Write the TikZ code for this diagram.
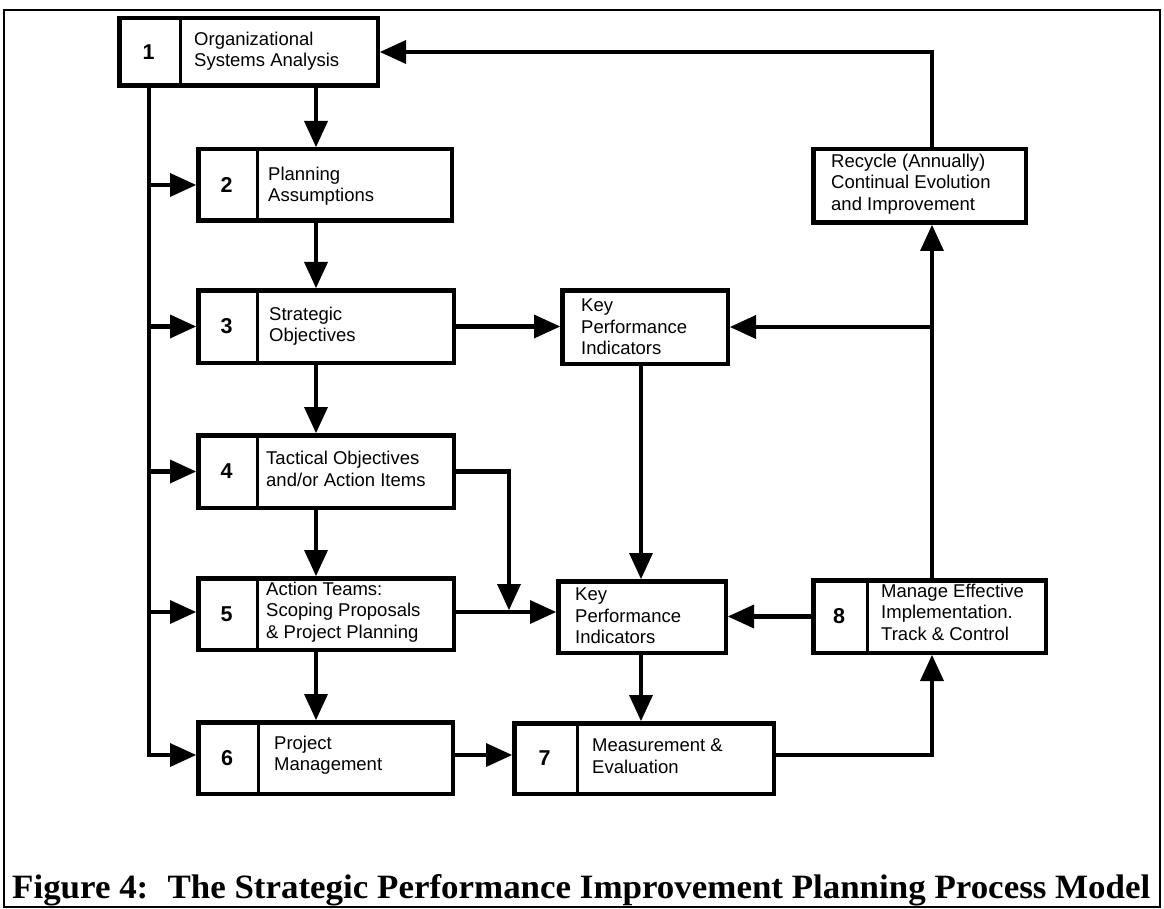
\documentclass[tikz,border=0pt]{standalone}
\usepackage{fontspec}
\usepackage{graphicx}
\setmainfont{Liberation Sans}
\newfontfamily\capfont{Liberation Serif}
\usetikzlibrary{arrows.meta}

\tikzset{
  boxline/.style={draw=black, line width=4.5pt, fill=white, inner sep=0pt},
  divline/.style={draw=black, line width=3pt},
  numtxt/.style={inner sep=0pt, font=\fontsize{21.5}{24}\selectfont\bfseries},
  boxtxt/.style={inner sep=0pt, anchor=west, align=left,
                 font=\fontsize{18.5}{21.5}\selectfont},
  conn/.style={draw=black, line width=4.5pt},
  arr/.style={-{Triangle[length=26pt,width=24pt,line width=0pt]}},
  frameline/.style={draw=black, line width=2.5pt}
}

% numbered process box: name, x1, y1, x2, y2, divider x, number, text anchor, text
\newcommand\pbox[9]{%
  \pgfmathsetmacro\pbW{#4-#2-4.5}%
  \pgfmathsetmacro\pbH{#5-#3-4.5}%
  \pgfmathsetmacro\pbX{(#2+#4)/2}%
  \pgfmathsetmacro\pbY{(#3+#5)/2}%
  \pgfmathsetmacro\pbN{(#2+#6)/2}%
  \node[boxline, minimum width=\pbW pt, minimum height=\pbH pt] (#1) at (\pbX,\pbY) {};
  \draw[divline] (#6,#3) -- (#6,#5);
  \node[numtxt] (#1-num) at (\pbN,\pbY) {#7};
  \node[boxtxt] (#1-txt) at (#8) {#9};
}

\begin{document}
\begin{tikzpicture}[x=1pt,y=-1pt]
\useasboundingbox (0,0) rectangle (1164,909);
\fill[white] (0,0) rectangle (1164,909);
\draw[frameline] (4,10) rectangle (1160,907);

% process boxes
\pbox{b1}{117}{16}{380}{88}{180}{1}{194,51}{Organizational\\Systems Analysis}
\pbox{b2}{196}{147}{454}{223}{257}{2}{268,186}{Planning\\Assumptions}
\pbox{b3}{196}{288}{456}{365}{257}{3}{269,326}{Strategic\\Objectives}
\pbox{b4}{196}{433}{456}{510}{257}{4}{266,469}{Tactical Objectives\\and/or Action Items}
\pbox{b5}{196}{576}{456}{652}{257}{5}{266,612}{Action Teams:\\Scoping Proposals\\\& Project Planning}
\pbox{b6}{196}{720}{455}{796}{258}{6}{274,755}{Project\\Management}
\pbox{b7}{512}{721}{776}{796}{577}{7}{592,756}{Measurement \&\\Evaluation}
\pbox{b8}{811}{578}{1048}{655}{867}{8}{881,612}{Manage Effective\\Implementation.\\Track \& Control}

% plain boxes
\node[boxline, minimum width=165.5pt, minimum height=73.5pt] (k1) at (645,327) {};
\node[boxtxt] (k1-txt) at (581,327) {Key\\Performance\\Indicators};
\node[boxline, minimum width=167.5pt, minimum height=71.5pt] (k2) at (642,617) {};
\node[boxtxt] (k2-txt) at (575,616) {Key\\Performance\\Indicators};
\node[boxline, minimum width=212.5pt, minimum height=73.5pt] (rc) at (919.5,186) {};
\node[boxtxt] (rc-txt) at (831,184) {Recycle (Annually)\\Continual Evolution\\and Improvement};

% routing guides
\coordinate (trk) at (149,0);
\coordinate (col) at (316,0);
\coordinate (kx) at (641,0);
\coordinate (vx) at (932,0);
\coordinate (r5) at (0,612);
\coordinate (r7) at (0,755);
\coordinate (j5) at (509,610);

% main column
\draw[conn,arr] (b1.south -| col) -- (b2.north -| col);
\draw[conn,arr] (b2.south -| col) -- (b3.north -| col);
\draw[conn,arr] (b3.south -| col) -- (b4.north -| col);
\draw[conn,arr] (b4.south -| col) -- (b5.north -| col);
\draw[conn,arr] (b5.south -| col) -- (b6.north -| col);

% left trunk from box 1
\draw[conn,arr] (b1.south -| trk) |- (b6.west |- r7);
\draw[conn,arr] (trk |- b2.west) -- (b2.west);
\draw[conn,arr] (trk |- b3.west) -- (b3.west);
\draw[conn,arr] (trk |- b4.west) -- (b4.west);
\draw[conn,arr] (trk |- r5) -- (b5.west |- r5);

% indicators
\draw[conn,arr] (b3.east) -- (b3.east -| k1.west);
\draw[conn,arr] (k1.south -| kx) -- (k2.north -| kx);
\draw[conn,arr] (k2.south -| kx) -- (b7.north -| kx);
\draw[conn,arr] (b5.east |- r5) -- (k2.west |- r5);
\draw[conn,arr] (b4.east) -| (j5);
\draw[conn,arr] (b8.west) -- (b8.west -| k2.east);

% evaluation and feedback loop
\draw[conn,arr] (b6.east |- r7) -- (b7.west |- r7);
\draw[conn,arr] (b7.east |- r7) -| (vx |- b8.south);
\draw[conn,arr] (vx |- b8.north) -- (vx |- rc.south);
\draw[conn,arr] (vx |- k1.east) -- (k1.east);
\draw[conn,arr] (vx |- rc.north) |- (b1.east);

% caption
\node[anchor=base west, inner sep=0pt] (cap) at (12,898)
  {\resizebox{1138pt}{24pt}{\capfont\bfseries\fontsize{35}{40}\selectfont
   Figure 4:\hspace{0.55em}The Strategic Performance Improvement Planning Process Model}};
\end{tikzpicture}
\end{document}
